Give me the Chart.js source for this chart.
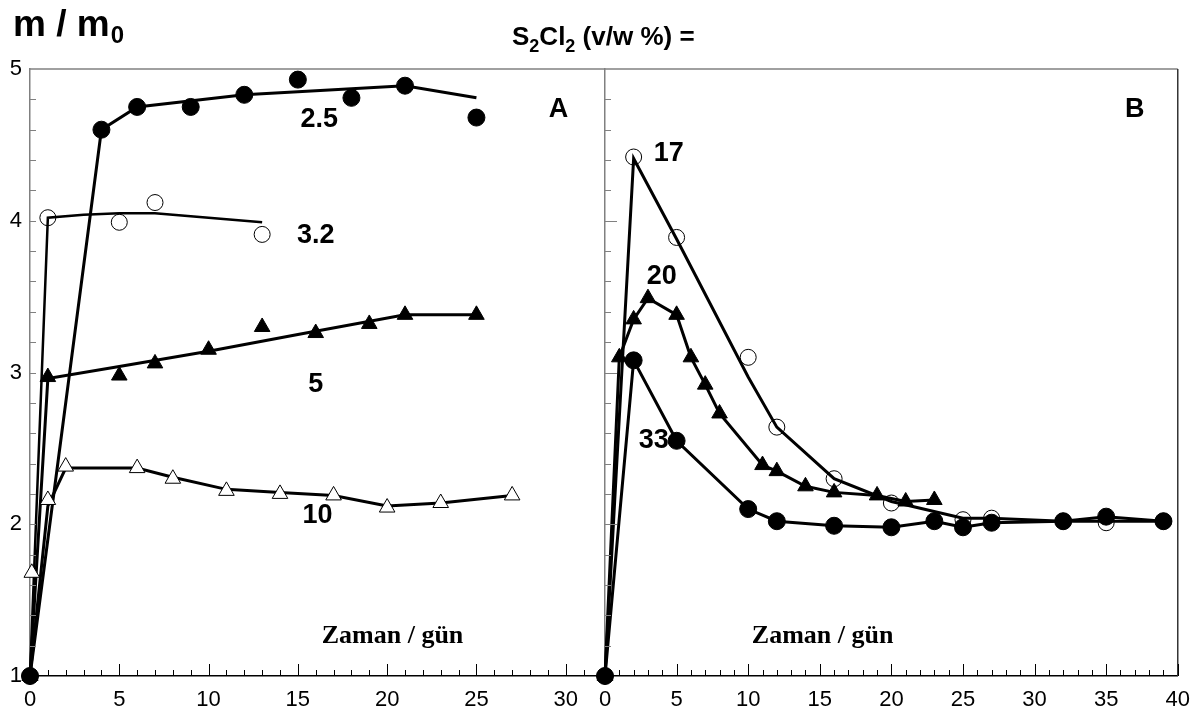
<!DOCTYPE html>
<html>
<head>
<meta charset="utf-8">
<script src="https://cdn.jsdelivr.net/npm/chart.js@4/dist/chart.umd.min.js"></script>
<style>
  body { margin: 0; background: #fff; }
  #wrap { position: relative; width: 1201px; height: 715px; }
  #wrap canvas { position: absolute; left: 0; top: 0; }
</style>
</head>
<body>
<div id="wrap">
  <canvas id="chartA" width="1201" height="715"></canvas>
  <canvas id="chartB" width="1201" height="715"></canvas>
</div>
<script>
// ---- panel A (x = gün, y = m/m0) ----
const xTicksA = [0, 5, 10, 15, 20, 25, 30];
const yTicks = [1, 2, 3, 4, 5];

const a25x = [0, 4, 6, 9, 12, 15, 18, 21, 25];
const a25y = [1, 4.60, 4.75, 4.75, 4.83, 4.93, 4.81, 4.89, 4.68];
const a25fitX = [0, 4, 6, 12, 21, 25];
const a25fitY = [1, 4.60, 4.75, 4.83, 4.89, 4.81];

const a32x = [0, 1, 5, 7, 13];
const a32y = [1, 4.02, 3.99, 4.12, 3.91];
const a32fitX = [0, 1, 3, 5, 7, 9, 11, 13];
const a32fitY = [1, 4.02, 4.04, 4.05, 4.05, 4.03, 4.01, 3.99];

const a5x = [0, 1, 5, 7, 10, 13, 16, 19, 21, 25];
const a5y = [1, 2.97, 2.98, 3.06, 3.15, 3.30, 3.26, 3.32, 3.38, 3.38];
const a5fitX = [0, 1, 5, 10, 15, 21, 25];
const a5fitY = [1, 2.96, 3.04, 3.14, 3.25, 3.38, 3.38];

const a10x = [0, 0.1, 1, 2, 6, 8, 11, 14, 17, 20, 23, 27];
const a10y = [1, 1.68, 2.16, 2.38, 2.37, 2.30, 2.22, 2.20, 2.19, 2.11, 2.14, 2.19];
const a10fitX = [0, 1, 2, 6, 8, 11, 14, 17, 20, 23, 27];
const a10fitY = [1, 2.12, 2.37, 2.37, 2.31, 2.23, 2.21, 2.19, 2.12, 2.14, 2.19];

// ---- panel B ----
const xTicksB = [0, 5, 10, 15, 20, 25, 30, 35, 40];

const b17x = [0, 2, 5, 10, 12, 16, 20, 25, 27, 32, 35, 39];
const b17y = [1, 4.42, 3.89, 3.10, 2.64, 2.30, 2.14, 2.03, 2.04, 2.02, 2.01, 2.02];
const b17fitY = [1, 4.41, 3.88, 2.97, 2.64, 2.30, 2.15, 2.04, 2.04, 2.02, 2.02, 2.02];

const b20x = [0, 1, 2, 3, 5, 6, 7, 8, 11, 12, 14, 16, 19, 21, 23];
const b20y = [1, 3.10, 3.35, 3.49, 3.38, 3.10, 2.92, 2.73, 2.39, 2.35, 2.25, 2.21, 2.19, 2.15, 2.16];

const b33x = [0, 2, 5, 10, 12, 16, 20, 23, 25, 27, 32, 35, 39];
const b33y = [1, 3.08, 2.55, 2.10, 2.02, 1.99, 1.98, 2.02, 1.98, 2.01, 2.02, 2.05, 2.02];

// labels (text, x, y) in data units
const labelsA = [['2.5', 16.2, 4.67], ['3.2', 16.0, 3.90], ['5', 16.0, 2.92], ['10', 16.1, 2.06], ['A', 29.6, 4.73]];
const labelsB = [['17', 4.45, 4.44], ['20', 3.97, 3.63], ['33', 3.4, 2.55], ['B', 37.0, 4.73]];

const SANS = '"Liberation Sans", Arial, sans-serif';
const SERIF = '"Liberation Serif", "Times New Roman", serif';

const pts = (xs, ys) => xs.map((x, i) => ({ x: x, y: ys[i] }));

function markers(xs, ys, style, filled, r) {
  return {
    data: pts(xs, ys), showLine: false, order: 1,
    pointStyle: style, pointRadius: r, pointHoverRadius: r,
    pointBackgroundColor: filled ? '#000' : (style === 'triangle' ? '#fff' : 'rgba(0,0,0,0)'),
    pointBorderColor: '#000', pointBorderWidth: 1
  };
}
function line(xs, ys, w) {
  return { data: pts(xs, ys), showLine: true, order: 2, pointRadius: 0, borderColor: '#000', borderWidth: w || 3, tension: 0 };
}

function xScale(min, max, ticks) {
  return {
    type: 'linear', min: min, max: max,
    grid: { display: false, drawTicks: false },
    border: { display: true, color: '#000', width: 1.5 },
    ticks: { color: '#000', font: { family: SANS, size: 22 }, padding: 11, maxRotation: 0, autoSkip: false },
    afterBuildTicks: s => { s.ticks = ticks.map(v => ({ value: v })); },
    afterFit: s => { s.height = 39; }
  };
}
function yScale(showLabels, width) {
  return {
    type: 'linear', min: 1, max: 5,
    grid: { display: false, drawTicks: false },
    border: { display: true, color: '#808080', width: 1.5 },
    ticks: { display: showLabels, color: '#000', font: { family: SANS, size: 22 }, padding: 8 },
    afterBuildTicks: s => { s.ticks = yTicks.map(v => ({ value: v })); },
    afterFit: s => { s.width = width; }
  };
}

function decor(labels, axisLabelX, rightBorder, headers) {
  return {
    id: 'decor',
    afterDraw(chart) {
      const ctx = chart.ctx, a = chart.chartArea;
      const xs = chart.scales.x, ys = chart.scales.y;
      ctx.save();
      // frame
      ctx.strokeStyle = '#808080'; ctx.lineWidth = 1.5;
      ctx.beginPath(); ctx.moveTo(a.left, a.top); ctx.lineTo(a.right, a.top); ctx.stroke();
      if (rightBorder) {
        ctx.strokeStyle = '#333';
        ctx.beginPath(); ctx.moveTo(a.right, a.top); ctx.lineTo(a.right, a.bottom); ctx.stroke();
      }
      // inner tick marks
      ctx.lineWidth = 1;
      ctx.strokeStyle = '#000';
      for (let v = Math.ceil(xs.min) + 1; v <= Math.floor(xs.max); v++) {
        const px = Math.round(xs.getPixelForValue(v)) + 0.5;
        const len = v % 5 === 0 ? 12 : 6;
        ctx.beginPath(); ctx.moveTo(px, a.bottom); ctx.lineTo(px, a.bottom - len); ctx.stroke();
      }
      ctx.strokeStyle = '#808080';
      for (let k = 1; k < 20; k++) {
        const v = 1 + k * 0.2;
        const py = Math.round(ys.getPixelForValue(v)) + 0.5;
        const len = (k % 5 === 0 && !headers) ? 12 : 6;
        ctx.beginPath(); ctx.moveTo(a.left, py); ctx.lineTo(a.left + len, py); ctx.stroke();
      }
      // series labels
      ctx.fillStyle = '#000';
      ctx.textAlign = 'center'; ctx.textBaseline = 'middle';
      ctx.font = 'bold 27px ' + SANS;
      labels.forEach(l => ctx.fillText(l[0], xs.getPixelForValue(l[1]), ys.getPixelForValue(l[2])));
      // axis title
      ctx.textBaseline = 'alphabetic';
      ctx.font = 'bold 26px ' + SERIF;
      ctx.fillText('Zaman / gün', xs.getPixelForValue(axisLabelX), ys.getPixelForValue(1.22));
      if (headers) {
        ctx.textAlign = 'left';
        ctx.font = 'bold 37px ' + SANS;
        ctx.fillText('m / m', 13, 36);
        let w = ctx.measureText('m / m').width;
        ctx.font = 'bold 24px ' + SANS;
        ctx.fillText('0', 13 + w + 1, 43);
        // S2Cl2 (v/w %) =
        let x = 512;
        const parts = [['S', 0], ['2', 1], ['Cl', 0], ['2', 1], [' (v/w %) =', 0]];
        parts.forEach(p => {
          ctx.font = p[1] ? 'bold 18px ' + SANS : 'bold 26px ' + SANS;
          ctx.fillText(p[0], x, p[1] ? 52 : 45);
          x += ctx.measureText(p[0]).width;
        });
      }
      ctx.restore();
    }
  };
}

const commonOpts = {
  animation: false, responsive: false,
  plugins: { legend: { display: false }, tooltip: { enabled: false } },
  datasets: { scatter: { clip: false } }
};

new Chart(document.getElementById('chartA'), {
  type: 'scatter',
  data: {
    datasets: [
      line(a25fitX, a25fitY), markers(a25x, a25y, 'circle', true, 8.5),
      line(a32fitX, a32fitY, 2.5), markers(a32x, a32y, 'circle', false, 8),
      line(a5fitX, a5fitY), markers(a5x, a5y, 'triangle', true, 9),
      line(a10fitX, a10fitY), markers(a10x, a10y, 'triangle', false, 9)
    ]
  },
  options: Object.assign({}, commonOpts, {
    layout: { padding: { left: 0, right: 1201 - 605, top: 69, bottom: 0 } },
    scales: { x: xScale(0, 32.2, xTicksA), y: yScale(true, 30) }
  }),
  plugins: [decor(labelsA, 20.3, false, true)]
});

new Chart(document.getElementById('chartB'), {
  type: 'scatter',
  data: {
    datasets: [
      line(b17x, b17fitY), markers(b17x, b17y, 'circle', false, 8),
      line(b20x, b20y), markers(b20x, b20y, 'triangle', true, 9),
      line(b33x, b33y), markers(b33x, b33y, 'circle', true, 8.5)
    ]
  },
  options: Object.assign({}, commonOpts, {
    layout: { padding: { left: 585, right: 1201 - 1180, top: 69, bottom: 0 } },
    scales: { x: xScale(0, 40, xTicksB), y: yScale(false, 20) }
  }),
  plugins: [decor(labelsB, 15.2, true, false)]
});
</script>
</body>
</html>
